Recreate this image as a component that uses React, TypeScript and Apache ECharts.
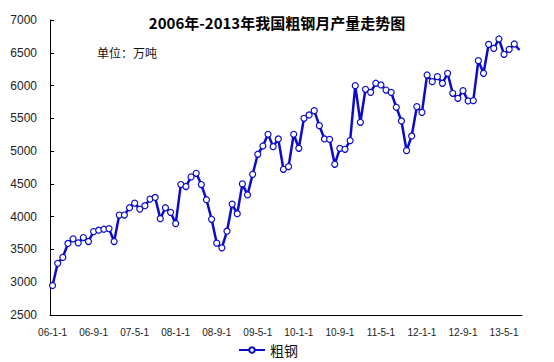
import React, { useEffect, useRef } from "react";
import * as echarts from "echarts";

const titleText = "2006年-2013年我国粗钢月产量走势图";
const unitText = "单位：万吨";
const seriesName = "粗钢";

const startYear = 2006;
const monthCount = 92; // 2006-01 .. 2013-08

const steelOutput = [
  2950, 3288, 3379, 3591, 3662, 3601, 3682, 3621, 3773, 3793, 3808, 3818,
  3621, 4025, 4025, 4136, 4207, 4116, 4167, 4268, 4293, 3970, 4136, 4066,
  3894, 4490, 4460, 4606, 4662, 4490, 4258, 3960, 3596, 3525, 3778, 4192,
  4045, 4500, 4333, 4646, 4952, 5078, 5257, 5068, 5185, 4723, 4763, 5257,
  5043, 5501, 5551, 5617, 5388, 5185, 5180, 4799, 5043, 5028, 5160, 5998,
  5440, 5943, 5897, 6035, 6009, 5932, 5897, 5669, 5460, 5007, 5231, 5678,
  5592, 6161, 6059, 6136, 6035, 6187, 5882, 5806, 5922, 5765, 5770, 6380,
  6187, 6629, 6568, 6710, 6477, 6553, 6634, 6543,
];

const yMin = 2500;
const yMax = 7000;
const yStep = 500;

const categories: string[] = [];
for (let i = 0; i < monthCount; i++) {
  const y = startYear + Math.floor(i / 12);
  const m = (i % 12) + 1;
  categories.push(`${String(y % 100).padStart(2, "0")}-${m}-1`);
}

const FONT = "'Liberation Sans', 'Noto Sans CJK SC', sans-serif";
const CJK = "'Noto Sans CJK SC', 'Liberation Sans', sans-serif";

export default function App() {
  const ref = useRef<HTMLDivElement>(null);
  useEffect(() => {
    if (!ref.current) return;
    const chart = echarts.init(ref.current, undefined, { renderer: "svg" });
    const lineColor = "#0c0cc8";
    chart.setOption({
      animation: false,
      backgroundColor: "#ffffff",
      title: {
        text: titleText,
        left: "center",
        top: 10,
        textStyle: {
          fontFamily: CJK,
          fontSize: 15,
          fontWeight: "bold",
          color: "#000",
        },
      },
      graphic: [
        {
          type: "text",
          left: 97,
          top: 46,
          style: {
            text: unitText,
            font: `12px ${CJK}`,
            fill: "#111",
          },
        },
      ],
      legend: {
        left: 233,
        top: 338,
        itemWidth: 26,
        itemHeight: 7,
        itemGap: 3,
        textStyle: { fontFamily: CJK, fontSize: 14, color: "#111" },
        data: [seriesName],
      },
      grid: { left: 50, right: 32, top: 20, bottom: 47 },
      xAxis: {
        type: "category",
        data: categories,
        boundaryGap: true,
        axisLine: { lineStyle: { color: "#000", width: 1 } },
        axisTick: { inside: true, length: 4, interval: 7, lineStyle: { color: "#000" } },
        axisLabel: {
          interval: 7,
          margin: 12,
          fontFamily: FONT,
          fontSize: 10,
          color: "#222",
        },
        splitLine: { show: false },
      },
      yAxis: {
        type: "value",
        min: yMin,
        max: yMax,
        interval: yStep,
        axisLine: { show: true, lineStyle: { color: "#000", width: 1 } },
        axisTick: { show: true, inside: true, length: 4, lineStyle: { color: "#000" } },
        axisLabel: {
          margin: 13,
          fontFamily: FONT,
          fontSize: 12,
          color: "#222",
          formatter: (v: number) => String(v),
        },
        splitLine: { show: false },
      },
      series: [
        {
          name: seriesName,
          type: "line",
          data: steelOutput.map((v, i) =>
            i === steelOutput.length - 1 ? { value: v, symbol: "none" } : v
          ),
          symbol: "circle",
          symbolSize: 6,
          showAllSymbol: true,
          lineStyle: { color: lineColor, width: 2.5 },
          itemStyle: { color: "#fff", borderColor: lineColor, borderWidth: 1.2 },
          z: 3,
        },
      ],
    });
    return () => chart.dispose();
  }, []);
  return (
    <div
      ref={ref}
      style={{ position: "absolute", left: 0, top: 0, width: 554, height: 362 }}
    />
  );
}
